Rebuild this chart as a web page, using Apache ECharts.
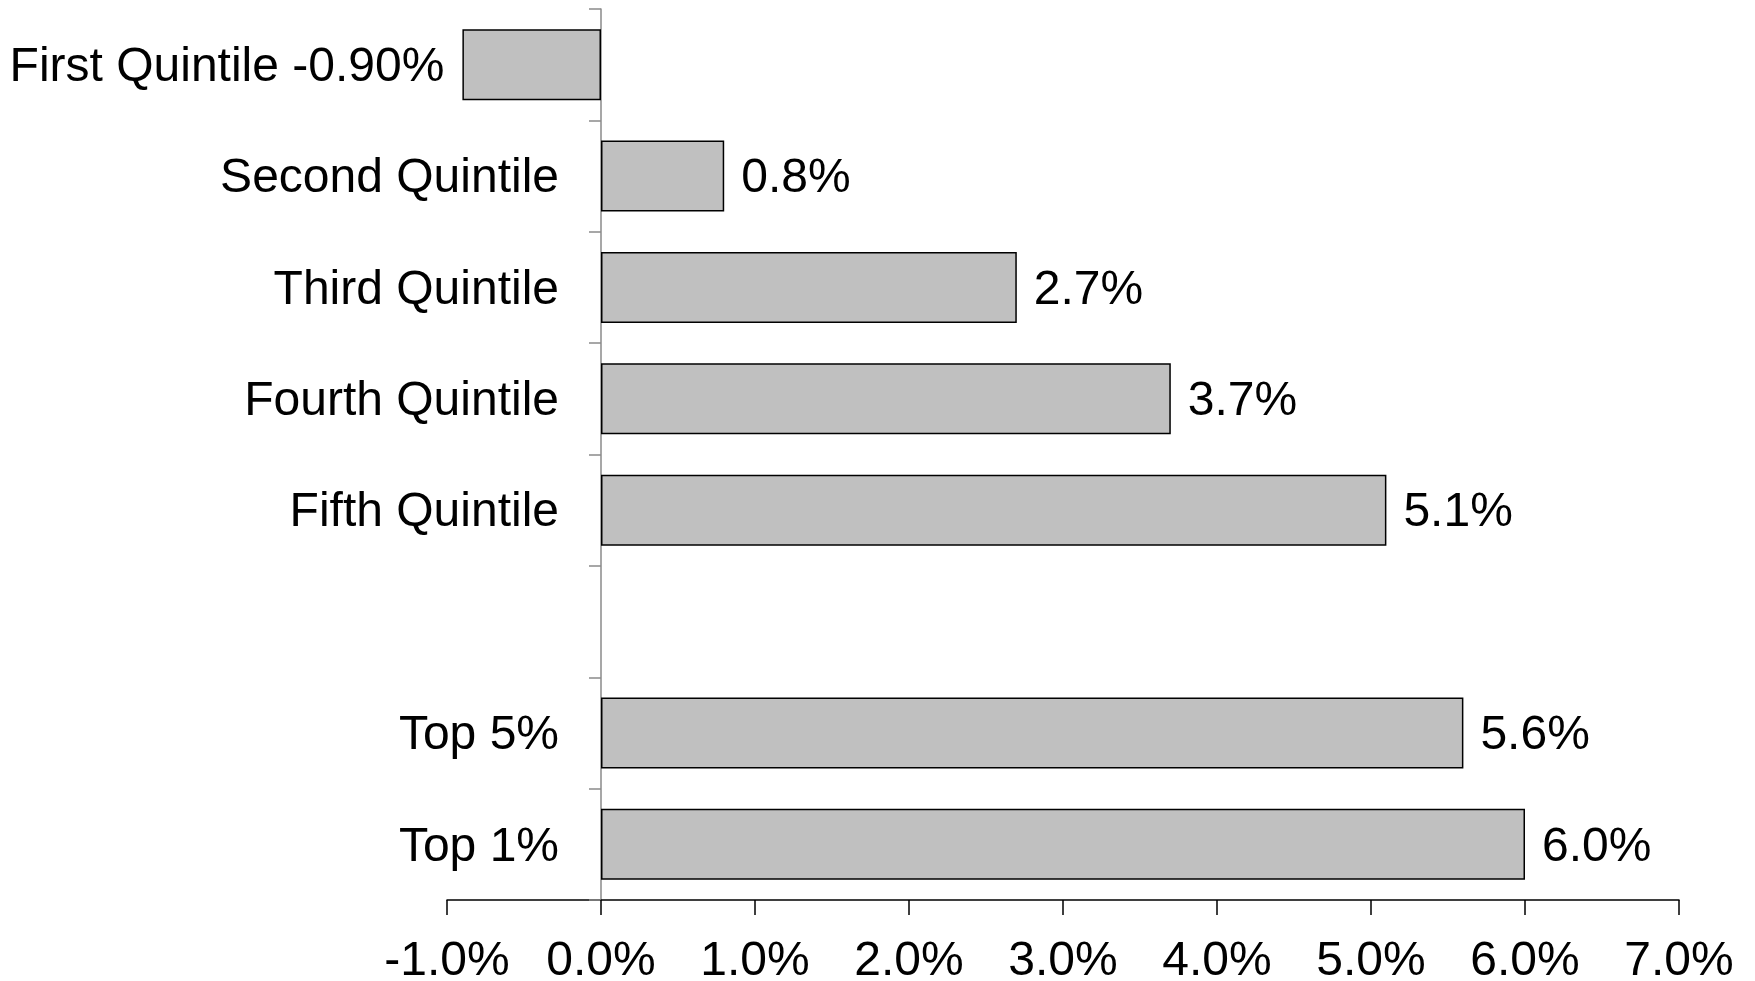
<!DOCTYPE html>
<html>
<head>
<meta charset="utf-8">
<script src="https://cdn.jsdelivr.net/npm/echarts@6/dist/echarts.min.js"></script>
<style>
html,body{margin:0;padding:0;background:#fff;}
#chart{width:1755px;height:981px;}
</style>
</head>
<body>
<div id="chart"></div>
<script>
const categories = ['First Quintile', 'Second Quintile', 'Third Quintile', 'Fourth Quintile', 'Fifth Quintile', '', 'Top 5%', 'Top 1%'];
const values = [-0.9, 0.8, 2.7, 3.7, 5.1, null, 5.6, 6.0];
const valueLabels = ['-0.90%', '0.8%', '2.7%', '3.7%', '5.1%', '', '5.6%', '6.0%'];
const xTickLabels = ['-1.0%', '0.0%', '1.0%', '2.0%', '3.0%', '4.0%', '5.0%', '6.0%', '7.0%'];
const xMin = -1, xMax = 7, xStep = 1;

const FONT = "'Liberation Sans', Arial, sans-serif";
const chart = echarts.init(document.getElementById('chart'), null, {renderer: 'canvas'});

const barData = values.map((v, i) => {
  if (v === null) return '-';
  return {
    value: v,
    label: v < 0
      ? {position: 'left', distance: 18, formatter: () => categories[i] + ' ' + valueLabels[i]}
      : {position: 'right', distance: 17, formatter: () => valueLabels[i]}
  };
});

chart.setOption({
  animation: false,
  backgroundColor: '#ffffff',
  grid: {left: 447, right: 76, top: 9, bottom: 81, containLabel: false, outerBoundsMode: 'none'},
  xAxis: {
    type: 'value',
    min: xMin, max: xMax, interval: xStep,
    splitLine: {show: false},
    axisLine: {show: true, onZero: false, lineStyle: {color: '#000', width: 1.5}},
    axisTick: {show: true, length: 15, lineStyle: {color: '#000', width: 1.5}},
    axisLabel: {
      margin: 38,
      fontFamily: FONT, fontSize: 48, color: '#000',
      formatter: (v) => {
        const idx = Math.round((v - xMin) / xStep);
        return xTickLabels[idx] !== undefined ? xTickLabels[idx] : '';
      }
    }
  },
  yAxis: {
    type: 'category',
    inverse: true,
    data: categories,
    axisLine: {show: true, onZero: true, lineStyle: {color: '#8a8a8a', width: 1.5}},
    axisTick: {show: true, length: 12, lineStyle: {color: '#8a8a8a', width: 1.5}},
    axisLabel: {
      margin: -112,
      fontFamily: FONT, fontSize: 48, color: '#000',
      formatter: (v, i) => (values[i] !== null && values[i] < 0) ? '' : '{a|' + v + '}',
      rich: {a: {fontFamily: FONT, fontSize: 48, color: '#000', padding: [6, 0, 0, 0]}}
    },
    splitLine: {show: false}
  },
  series: [{
    type: 'bar',
    data: barData,
    barWidth: 71,
    itemStyle: {color: '#c0c0c0', borderColor: '#000', borderWidth: 1.5},
    label: {show: true, fontFamily: FONT, fontSize: 48, color: '#000', offset: [0, 3]},
    z: 1
  }]
});
</script>
</body>
</html>
